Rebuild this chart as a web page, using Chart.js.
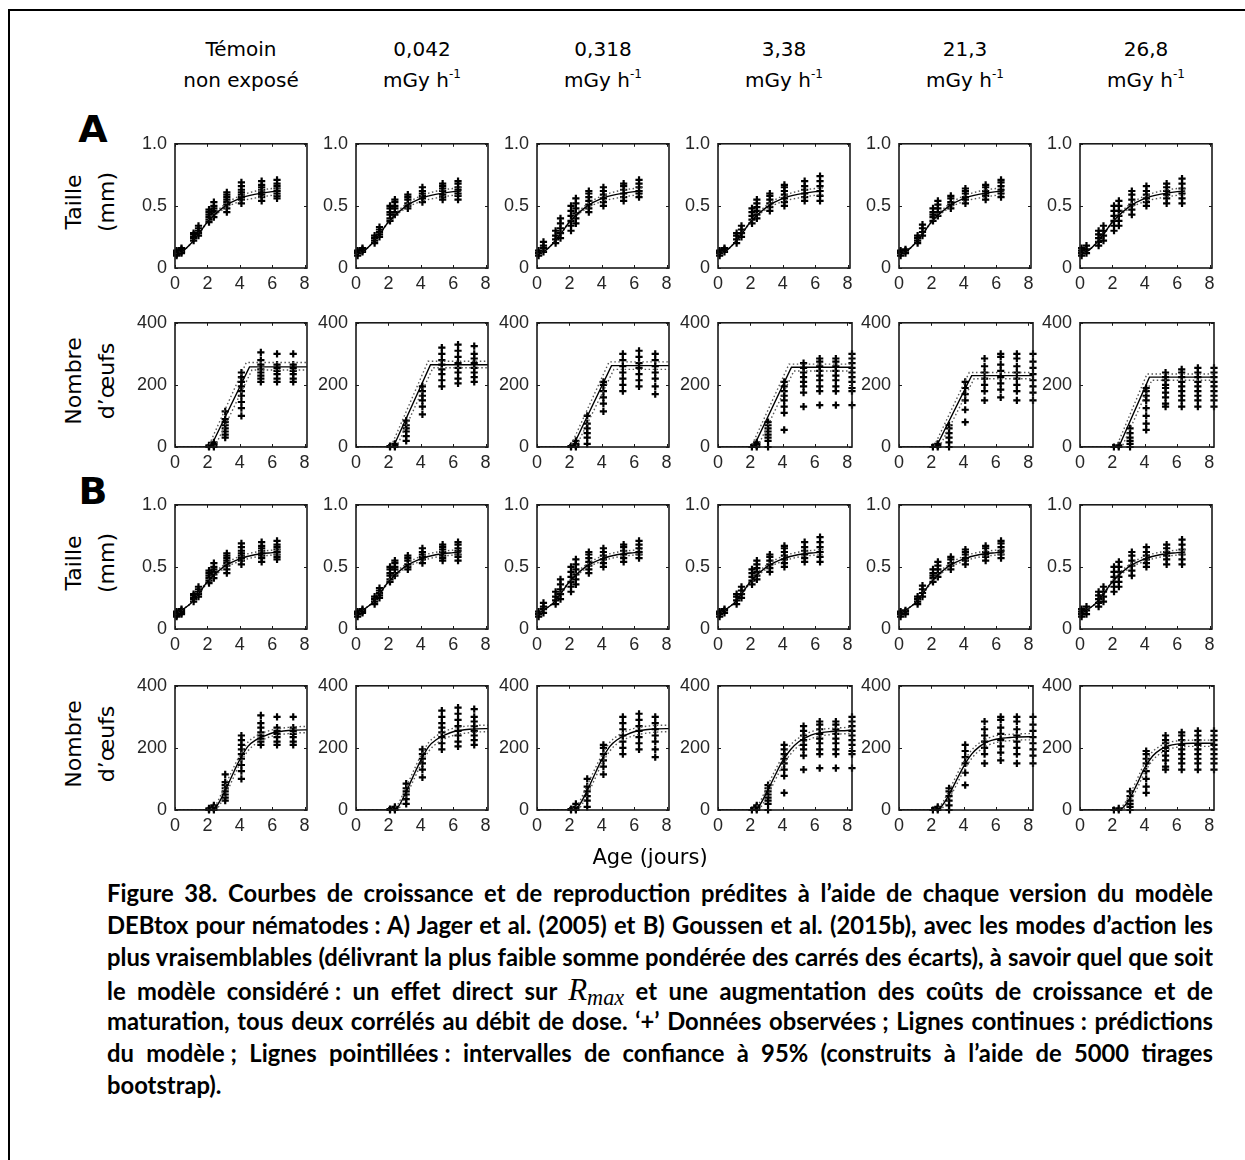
<!DOCTYPE html>
<html><head><meta charset="utf-8">
<script src="https://cdn.jsdelivr.net/npm/chart.js@4.4.1/dist/chart.umd.min.js"></script>
<style>
html,body{margin:0;padding:0;background:#fff;}
body{width:1245px;height:1160px;position:relative;overflow:hidden;font-family:'DejaVu Sans',sans-serif;color:#000;}
.fr{position:absolute;background:#000;}
canvas.sub{position:absolute;}
.hdr{position:absolute;width:180px;text-align:center;font-size:20px;line-height:31px;}
.hdr sup{font-size:12px;line-height:0;vertical-align:9px;}
.pl{position:absolute;font-weight:bold;font-size:38px;transform:translate(-50%,-50%);}
.yt{position:absolute;font-size:22px;line-height:33px;text-align:center;white-space:nowrap;transform:translate(-50%,-50%) rotate(-90deg);}
.age{position:absolute;font-size:21px;transform:translate(-50%,-50%);white-space:nowrap;}
.cap{position:absolute;left:107px;width:1106px;height:32px;line-height:32px;font-family:Lato,'Liberation Sans',sans-serif;font-weight:bold;text-align:justify;text-align-last:justify;color:#000;white-space:nowrap;}
.cap.last{text-align:left;text-align-last:left;}
.rm{font-family:'Liberation Serif','DejaVu Serif',serif;font-style:italic;font-weight:normal;font-size:1.3em;}
.rm sub{font-size:0.72em;line-height:0;vertical-align:-5px;}
</style>
</head><body>
<div class="fr" style="left:8px;top:9px;width:1237px;height:2px;"></div>
<div class="fr" style="left:8px;top:9px;width:2px;height:1151px;"></div>
<script>
// ================= DATA =================
const columnDoses = ['Témoin', '0,042', '0,318', '3,38', '21,3', '26,8'];
const columnUnits = ['non exposé', 'mGy h', 'mGy h', 'mGy h', 'mGy h', 'mGy h'];
const columnUnitSup = ['', '-1', '-1', '-1', '-1', '-1'];
const rowTitles = [['Taille', '(mm)'], ['Nombre', 'd’œufs'], ['Taille', '(mm)'], ['Nombre', 'd’œufs']];
const panelLetters = ['A', 'B'];
const xAxisTitle = 'Age (jours)';

const ageTicks = [0, 2, 4, 6, 8];
const sizeTicks = [0, 0.5, 1];
const sizeTickLabels = ['0', '0.5', '1.0'];
const eggTicks = [0, 200, 400];
const eggTickLabels = ['0', '200', '400'];

// observed body length (mm), one list per sampling age
const sizeAges = [0.1, 0.4, 1.15, 1.45, 2.1, 2.4, 3.2, 4.1, 5.35, 6.3];
const sizeObsC1 = [[0.10,0.11,0.12,0.13,0.14],[0.12,0.13,0.14,0.15,0.16],[0.22,0.24,0.25,0.27,0.28],[0.26,0.28,0.30,0.32,0.34],[0.37,0.39,0.41,0.43,0.45,0.47],[0.41,0.44,0.46,0.48,0.50,0.53],[0.45,0.48,0.51,0.53,0.55,0.57,0.59,0.61],[0.52,0.55,0.57,0.59,0.61,0.63,0.66,0.69],[0.54,0.57,0.59,0.61,0.63,0.65,0.67,0.70],[0.56,0.58,0.60,0.62,0.64,0.66,0.68,0.71]];
const sizeObsC2 = [[0.10,0.12,0.13,0.14],[0.13,0.14,0.15,0.16],[0.20,0.22,0.24,0.26],[0.25,0.27,0.29,0.31,0.33],[0.38,0.40,0.43,0.45,0.48,0.50],[0.43,0.45,0.48,0.50,0.53,0.55],[0.48,0.50,0.52,0.55,0.57,0.59],[0.53,0.56,0.58,0.60,0.62,0.65],[0.55,0.57,0.59,0.62,0.64,0.66,0.68],[0.55,0.58,0.60,0.63,0.65,0.68,0.70]];
const sizeObsC3 = [[0.10,0.12,0.14],[0.13,0.16,0.18,0.21],[0.20,0.23,0.26,0.30],[0.24,0.28,0.32,0.36,0.40],[0.30,0.34,0.38,0.42,0.46,0.50],[0.36,0.40,0.44,0.48,0.52,0.56],[0.45,0.48,0.51,0.54,0.57,0.60,0.62],[0.50,0.53,0.56,0.59,0.62,0.65],[0.54,0.57,0.60,0.63,0.66,0.68],[0.57,0.60,0.62,0.65,0.68,0.71]];
const sizeObsC4 = [[0.10,0.12,0.13,0.14],[0.13,0.15,0.16],[0.20,0.23,0.26,0.28],[0.25,0.28,0.31,0.34],[0.36,0.39,0.42,0.45,0.48],[0.40,0.43,0.46,0.49,0.52,0.55],[0.46,0.49,0.52,0.55,0.58,0.60],[0.50,0.53,0.56,0.59,0.62,0.65,0.67],[0.54,0.57,0.60,0.63,0.66,0.70],[0.54,0.58,0.62,0.66,0.70,0.74]];
const sizeObsC5 = [[0.10,0.12,0.13,0.14],[0.12,0.14,0.15],[0.20,0.22,0.24,0.26],[0.26,0.29,0.32,0.35],[0.38,0.41,0.43,0.45,0.48],[0.42,0.45,0.48,0.51,0.54],[0.48,0.51,0.53,0.56,0.58],[0.52,0.55,0.57,0.60,0.62,0.64],[0.55,0.58,0.60,0.62,0.65,0.67],[0.57,0.60,0.63,0.66,0.69,0.71]];
const sizeObsC6 = [[0.10,0.12,0.14,0.16],[0.12,0.15,0.18],[0.18,0.21,0.24,0.27,0.30],[0.22,0.26,0.30,0.34],[0.30,0.34,0.38,0.42,0.46,0.50],[0.34,0.38,0.42,0.46,0.50,0.54],[0.43,0.47,0.51,0.55,0.59,0.62],[0.50,0.53,0.56,0.59,0.62,0.66],[0.52,0.56,0.59,0.62,0.65,0.68],[0.52,0.56,0.60,0.64,0.68,0.72]];
const sizeObs = [sizeObsC1, sizeObsC2, sizeObsC3, sizeObsC4, sizeObsC5, sizeObsC6];

// observed cumulated eggs, one list per sampling age
const eggAges = [2.1, 2.4, 3.1, 4.1, 5.3, 6.3, 7.3, 8.3];
const eggObsC1 = [[0,2,5],[0,5,10,15],[30,40,50,60,70,80,90,115],[100,125,145,165,180,195,210,225,240],[210,220,230,240,250,265,280,305],[210,220,235,245,255,265,300],[210,220,235,245,255,265,300],[]];
const eggObsC2 = [[0,3],[0,5,10],[20,35,50,60,70,85],[105,130,150,165,180,195],[195,215,235,250,265,280,300,320],[205,220,240,255,270,290,310,330],[210,225,240,255,270,285,300,325],[]];
const eggObsC3 = [[0,3],[0,5,10,20],[10,30,45,60,75,100],[115,140,160,180,200,210],[180,200,220,240,260,280,300],[195,215,235,255,270,290,310],[170,195,220,240,260,280,300],[]];
const eggObsC4 = [[0],[0,5,10,15],[0,20,30,40,50,60,70,80],[55,110,130,150,165,180,195,210],[130,175,195,210,225,240,255,270],[135,180,195,215,230,245,260,275,285],[135,180,195,215,230,245,260,275,285],[135,180,190,210,225,240,255,270,285,300]];
const eggObsC5 = [[0],[0,5,10],[0,15,30,45,60,70],[80,120,150,170,190,210],[150,180,200,220,240,260,285],[160,185,205,225,245,265,290,300],[150,180,200,220,240,260,285,300],[150,175,195,215,235,255,275,300]];
const eggObsC6 = [[0],[0,5],[0,10,20,30,45,60],[55,75,100,125,150,165,180,190],[130,140,160,175,190,200,215,225,240],[130,150,165,180,195,210,225,240,250],[130,150,165,180,195,210,225,240,255],[130,150,165,180,195,210,225,240,255]];
const eggObs = [eggObsC1, eggObsC2, eggObsC3, eggObsC4, eggObsC5, eggObsC6];

// model predictions, body length (same shape in all columns)
const sizeGrid = [0, 0.5, 1, 1.5, 2, 3, 4, 5, 6, 6.5];
const sizeFitA = [0.12, 0.14, 0.20, 0.28, 0.37, 0.49, 0.56, 0.595, 0.615, 0.62];
const sizeLoA  = [0.12, 0.14, 0.20, 0.28, 0.365, 0.475, 0.535, 0.565, 0.585, 0.59];
const sizeHiA  = [0.12, 0.14, 0.20, 0.28, 0.375, 0.505, 0.58, 0.62, 0.64, 0.645];
const sizeFitB = [0.12, 0.16, 0.21, 0.29, 0.38, 0.50, 0.565, 0.60, 0.615, 0.62];
const sizeLoB  = [0.12, 0.16, 0.21, 0.285, 0.37, 0.485, 0.545, 0.58, 0.595, 0.60];
const sizeHiB  = [0.12, 0.16, 0.21, 0.295, 0.39, 0.515, 0.585, 0.62, 0.635, 0.64];

// model predictions, eggs, version A (Jager) : [age, eggs] break points
const eggFitA = [
  [[0,0],[2.2,0],[4.6,258],[8.3,258]],
  [[0,0],[2.3,0],[4.6,265],[8.3,265]],
  [[0,0],[2.2,0],[4.6,262],[8.3,262]],
  [[0,0],[2.2,0],[4.55,257],[8.3,257]],
  [[0,0],[2.3,0],[4.5,230],[8.3,230]],
  [[0,0],[2.4,0],[4.3,225],[8.3,225]]];
const eggLoA = [
  [[0,0],[2.45,0],[4.75,248],[8.3,248]],
  [[0,0],[2.5,0],[4.75,255],[8.3,255]],
  [[0,0],[2.4,0],[4.75,250],[8.3,250]],
  [[0,0],[2.45,0],[4.7,245],[8.3,245]],
  [[0,0],[2.5,0],[4.65,220],[8.3,220]],
  [[0,0],[2.6,0],[4.45,215],[8.3,215]]];
const eggHiA = [
  [[0,0],[2.05,0],[4.4,272],[8.3,272]],
  [[0,0],[2.15,0],[4.45,276],[8.3,276]],
  [[0,0],[2.05,0],[4.45,274],[8.3,274]],
  [[0,0],[2.05,0],[4.4,267],[8.3,267]],
  [[0,0],[2.15,0],[4.35,240],[8.3,240]],
  [[0,0],[2.25,0],[4.15,235],[8.3,235]]];

// model predictions, eggs, version B (Goussen)
const eggGridB = [0, 2, 2.5, 3, 3.5, 4, 4.5, 5, 5.5, 6, 7, 8, 8.3];
const eggFitB = [
  [0,0,8,52,108,162,205,226,238,248,256,258,258],
  [0,0,5,48,105,160,205,228,242,252,260,262,262],
  [0,0,8,52,108,162,205,228,242,252,260,262,262],
  [0,0,10,55,108,158,195,220,235,245,253,256,257],
  [0,0,5,40,90,140,180,205,220,228,234,236,236],
  [0,0,2,30,80,135,174,195,207,212,215,215,215]];
const eggLoB = [
  [0,0,2,38,92,148,190,214,228,238,246,249,249],
  [0,0,1,35,90,145,190,215,230,240,249,252,252],
  [0,0,2,38,92,148,190,216,230,240,249,252,252],
  [0,0,3,40,92,142,180,207,223,234,243,246,247],
  [0,0,1,28,75,125,166,192,208,217,224,226,226],
  [0,0,0,20,66,120,160,183,196,202,205,205,205]];
const eggHiB = [
  [0,0,16,68,124,176,218,238,250,258,266,269,269],
  [0,0,12,62,120,175,218,240,254,263,271,273,273],
  [0,0,16,68,124,176,218,240,254,263,271,273,273],
  [0,0,18,70,124,172,210,232,246,256,263,266,267],
  [0,0,10,52,105,155,193,217,231,239,244,246,246],
  [0,0,6,42,95,150,188,207,218,222,225,225,225]];

const captionLines = [
  'Figure 38. Courbes de croissance et de reproduction prédites à l’aide de chaque version du modèle',
  'DEBtox pour nématodes\u202F: A) Jager et al. (2005) et B) Goussen et al. (2015b), avec les modes d’action les',
  'plus vraisemblables (délivrant la plus faible somme pondérée des carrés des écarts), à savoir quel que soit',
  'le modèle considéré\u202F: un effet direct sur @RMAX@ et une augmentation des coûts de croissance et de',
  'maturation, tous deux corrélés au débit de dose. ‘+’ Données observées\u202F; Lignes continues\u202F: prédictions',
  'du modèle\u202F; Lignes pointillées\u202F: intervalles de confiance à 95% (construits à l’aide de 5000 tirages',
  'bootstrap).'];

// ================= LAYOUT =================
const colLeft = [175, 356, 537, 718, 899, 1080];
const rowTop = [137, 316, 498, 679];
const PLOT_H = 131, PX_PER_DAY = 16.2;
const PAD_L = 46, PAD_T = 12, PAD_R = 12, PAD_B = 32;
const tickFont = {family: "'Liberation Sans Narrow','Liberation Sans',Arial,sans-serif", size: 18};
const tickColor = '#262626';

const boxPlugin = {
  id: 'matlabBox',
  afterDraw(chart) {
    const {ctx, chartArea: a, scales: {x, y}} = chart;
    ctx.save();
    ctx.strokeStyle = '#1a1a1a';
    ctx.lineWidth = 1.6;
    ctx.strokeRect(a.left, a.top, a.right - a.left, a.bottom - a.top);
    ctx.lineWidth = 1;
    ctx.beginPath();
    x.ticks.forEach(t => {
      const p = Math.round(x.getPixelForValue(t.value)) + 0.5;
      ctx.moveTo(p, a.bottom); ctx.lineTo(p, a.bottom - 3);
      ctx.moveTo(p, a.top); ctx.lineTo(p, a.top + 3);
    });
    y.ticks.forEach(t => {
      const p = Math.round(y.getPixelForValue(t.value)) + 0.5;
      ctx.moveTo(a.left, p); ctx.lineTo(a.left + 3, p);
      ctx.moveTo(a.right, p); ctx.lineTo(a.right - 3, p);
    });
    ctx.stroke();
    ctx.restore();
  }
};

function obsPoints(ages, clusters) {
  const pts = [];
  clusters.forEach((vals, i) => vals.forEach(v => pts.push({x: ages[i], y: v})));
  return pts;
}
function gridPoints(grid, vals) { return grid.map((g, i) => ({x: g, y: vals[i]})); }
function pairPoints(pairs) { return pairs.map(p => ({x: p[0], y: p[1]})); }

function lineDs(data, dotted, smooth) {
  return {
    data, showLine: true, pointRadius: 0, fill: false,
    borderColor: dotted ? '#555' : '#000',
    borderWidth: dotted ? 1.4 : 1.4,
    borderDash: dotted ? [1.5, 2.5] : [],
    cubicInterpolationMode: smooth ? 'monotone' : 'default',
    tension: 0, order: 0
  };
}

function makePanel(row, col) {
  const isSize = row % 2 === 0;
  const modelA = row < 2;
  const xMax = (isSize || col < 3) ? 8.15 : 8.3;
  const plotW = Math.round(xMax * PX_PER_DAY);
  const W = plotW + PAD_L + PAD_R, H = PLOT_H + PAD_T + PAD_B;
  const cv = document.createElement('canvas');
  cv.className = 'sub';
  cv.width = W; cv.height = H;
  cv.style.width = W + 'px'; cv.style.height = H + 'px';
  cv.style.left = (colLeft[col] - PAD_L) + 'px';
  cv.style.top = (rowTop[row] - PAD_T) + 'px';
  document.body.appendChild(cv);

  let datasets;
  if (isSize) {
    const fit = modelA ? sizeFitA : sizeFitB, lo = modelA ? sizeLoA : sizeLoB, hi = modelA ? sizeHiA : sizeHiB;
    datasets = [
      lineDs(gridPoints(sizeGrid, fit), false, true),
      lineDs(gridPoints(sizeGrid, lo), true, true),
      lineDs(gridPoints(sizeGrid, hi), true, true),
      {data: obsPoints(sizeAges, sizeObs[col])}
    ];
  } else if (modelA) {
    datasets = [
      lineDs(pairPoints(eggFitA[col]), false, false),
      lineDs(pairPoints(eggLoA[col]), true, false),
      lineDs(pairPoints(eggHiA[col]), true, false),
      {data: obsPoints(eggAges, eggObs[col])}
    ];
  } else {
    datasets = [
      lineDs(gridPoints(eggGridB, eggFitB[col]), false, true),
      lineDs(gridPoints(eggGridB, eggLoB[col]), true, true),
      lineDs(gridPoints(eggGridB, eggHiB[col]), true, true),
      {data: obsPoints(eggAges, eggObs[col])}
    ];
  }
  const obs = datasets[3];
  Object.assign(obs, {
    pointStyle: 'cross', pointRadius: 3.6, pointBorderWidth: 2.2,
    pointBorderColor: '#000', pointBackgroundColor: '#000',
    borderColor: '#000', backgroundColor: '#000', showLine: false, clip: false, order: 1
  });

  const yTicks = isSize ? sizeTicks : eggTicks;
  const yLabels = isSize ? sizeTickLabels : eggTickLabels;
  new Chart(cv, {
    type: 'scatter',
    data: {datasets},
    options: {
      responsive: false, animation: false, events: [],
      layout: {padding: {top: PAD_T, right: PAD_R, left: 0, bottom: 0}},
      plugins: {legend: {display: false}, tooltip: {enabled: false}},
      scales: {
        x: {
          type: 'linear', min: 0, max: xMax,
          grid: {display: false, drawTicks: false}, border: {display: false},
          afterBuildTicks: s => { s.ticks = ageTicks.map(v => ({value: v})); },
          afterFit: s => { s.height = PAD_B; },
          ticks: {font: tickFont, color: tickColor, padding: 5, maxRotation: 0, autoSkip: false,
                  callback: (v, i) => String(ageTicks[i])}
        },
        y: {
          type: 'linear', min: 0, max: yTicks[yTicks.length - 1],
          grid: {display: false, drawTicks: false}, border: {display: false},
          afterBuildTicks: s => { s.ticks = yTicks.map(v => ({value: v})); },
          afterFit: s => { s.width = PAD_L; },
          ticks: {font: tickFont, color: tickColor, padding: 8, autoSkip: false,
                  callback: (v, i) => yLabels[i]}
        }
      }
    },
    plugins: [boxPlugin]
  });
}

for (let r = 0; r < 4; r++) for (let c = 0; c < 6; c++) makePanel(r, c);

// ---- text ----
function addDiv(cls, html, style) {
  const d = document.createElement('div');
  d.className = cls; d.innerHTML = html; Object.assign(d.style, style);
  document.body.appendChild(d); return d;
}
columnDoses.forEach((t, c) => {
  const unit = columnUnits[c] + (columnUnitSup[c] ? '<sup>' + columnUnitSup[c] + '</sup>' : '');
  addDiv('hdr', t + '<br>' + unit, {left: (colLeft[c] + 66 - 90) + 'px', top: '34px'});
});
addDiv('pl', panelLetters[0], {left: '93px', top: '129px'});
addDiv('pl', panelLetters[1], {left: '93px', top: '491px'});
rowTitles.forEach((t, r) => {
  addDiv('yt', t[0] + '<br>' + t[1], {left: '90px', top: (rowTop[r] + 65) + 'px'});
});
addDiv('age', xAxisTitle, {left: '650px', top: '857px'});

const capCenters = [893, 925, 957, 990, 1021, 1053, 1085];
const rmaxHtml = '<span class="rm">R<sub>max</sub></span>';
// fit caption font so the densest line fills the width
const probe = document.createElement('span');
probe.style.cssText = 'position:absolute;visibility:hidden;white-space:nowrap;font-family:Lato,"Liberation Sans",sans-serif;font-weight:bold;font-size:100px;';
document.body.appendChild(probe);
let maxW = 0;
captionLines.forEach(l => { probe.innerHTML = l.replace('@RMAX@', rmaxHtml); maxW = Math.max(maxW, probe.offsetWidth); });
probe.remove();
const capSize = 100 * 1100 / maxW;
captionLines.forEach((l, i) => {
  addDiv('cap' + (i === captionLines.length - 1 ? ' last' : ''), l.replace('@RMAX@', rmaxHtml),
    {top: (capCenters[i] - 16) + 'px', fontSize: capSize + 'px'});
});
</script>
</body></html>
